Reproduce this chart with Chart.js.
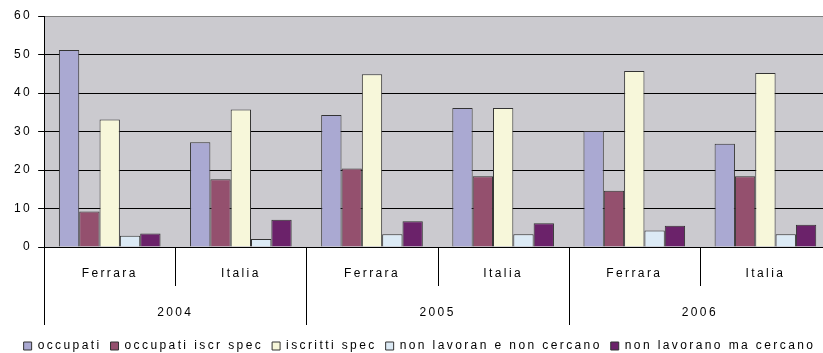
<!DOCTYPE html>
<html>
<head>
<meta charset="utf-8">
<script src="https://cdn.jsdelivr.net/npm/chart.js@4/dist/chart.umd.min.js"></script>
<style>
  html, body { margin: 0; padding: 0; background: #fff; overflow: hidden; }
  #box { width: 832px; height: 353px; }
</style>
</head>
<body>
<div id="box"><canvas id="grafico"></canvas></div>
<script>
// categorie (livello interno ed esterno dell'asse X)
var luoghi = ['Ferrara', 'Italia', 'Ferrara', 'Italia', 'Ferrara', 'Italia'];
var anni = ['2004', '2005', '2006'];

// serie
var occupati = [51.2, 27.2, 34.3, 36.1, 30.1, 26.8];
var occupatiIscrSpec = [9.2, 17.6, 20.4, 18.4, 14.6, 18.4];
var iscrittiSpec = [33.1, 35.7, 44.9, 36.1, 45.7, 45.2];
var nonLavoranNonCercano = [2.9, 2.1, 3.3, 3.3, 4.3, 3.3];
var nonLavoranoMaCercano = [3.5, 7.1, 6.7, 6.2, 5.5, 5.8];

// asse Y
var yTicks = [0, 10, 20, 30, 40, 50, 60];

var FONT = { family: '"Liberation Sans", Arial, sans-serif', size: 12 };
var SPAZIO = '2.4px';

// spaziatura lettere come nell'originale
var spaziatura = {
    id: 'spaziatura',
    beforeInit: function (chart) { chart.ctx.letterSpacing = SPAZIO; },
    beforeLayout: function (chart) { chart.ctx.letterSpacing = SPAZIO; },
    beforeDraw: function (chart) { chart.ctx.letterSpacing = SPAZIO; }
};

// sfondo grigio dell'area del grafico
var sfondo = {
    id: 'sfondo',
    beforeDraw: function (chart) {
        var a = chart.chartArea, ctx = chart.ctx;
        ctx.save();
        ctx.fillStyle = '#CBCACF';
        ctx.fillRect(a.left, a.top, a.right - a.left, a.bottom - a.top);
        ctx.restore();
    }
};

// separatori dell'asse categorie (due livelli)
var separatori = {
    id: 'separatori',
    afterDraw: function (chart) {
        var x = chart.scales.x, x2 = chart.scales.x2, ctx = chart.ctx;
        var n = luoghi.length, passo = (x.right - x.left) / n;
        ctx.save();
        ctx.strokeStyle = '#000000';
        ctx.lineWidth = 1;
        for (var i = 0; i <= n; i++) {
            var px = Math.round(x.left + i * passo) + 0.5;
            var fine = (i % 2 === 0) ? x2.bottom - 6 : x.bottom - 6;
            ctx.beginPath();
            ctx.moveTo(px, x.top);
            ctx.lineTo(px, fine);
            ctx.stroke();
        }
        ctx.restore();
    }
};

function serie(label, data, colore) {
    return {
        label: label,
        data: data,
        backgroundColor: colore,
        borderColor: '#333333',
        borderWidth: 1,
        xAxisID: 'x'
    };
}

var grafico = new Chart(document.getElementById('grafico'), {
    type: 'bar',
    data: {
        labels: luoghi,
        datasets: [
            serie('occupati', occupati, '#AAA9D2'),
            serie('occupati iscr spec', occupatiIscrSpec, '#94506E'),
            serie('iscritti spec', iscrittiSpec, '#F7F7DA'),
            serie('non lavoran e non cercano', nonLavoranNonCercano, '#DCEAF5'),
            serie('non lavorano ma cercano', nonLavoranoMaCercano, '#6B226A')
        ]
    },
    options: {
        responsive: true,
        maintainAspectRatio: false,
        animation: false,
        datasets: {
            bar: { categoryPercentage: 0.775, barPercentage: 1.0 }
        },
        layout: { padding: { top: 16, left: 8, right: 1, bottom: -9 } },
        font: FONT,
        scales: {
            y: {
                min: 0,
                max: 60,
                afterBuildTicks: function (scale) {
                    scale.ticks = yTicks.map(function (v) { return { value: v }; });
                },
                grid: {
                    color: function (c) { return c.tick && c.tick.value === 60 ? '#808080' : '#000000'; },
                    tickColor: '#000000',
                    tickLength: 6,
                    lineWidth: 1
                },
                border: { color: '#000000', width: 1 },
                ticks: { color: '#000000', padding: 6, font: FONT }
            },
            x: {
                type: 'category',
                position: 'bottom',
                offset: true,
                grid: { display: false },
                border: { display: true, color: '#000000', width: 1 },
                ticks: { color: '#000000', padding: 11, maxRotation: 0, autoSkip: false, font: FONT },
                afterFit: function (scale) { scale.height = 45; }
            },
            x2: {
                type: 'category',
                position: 'bottom',
                labels: anni,
                offset: true,
                grid: { display: false },
                border: { display: false },
                ticks: { color: '#000000', padding: 5, maxRotation: 0, autoSkip: false, font: FONT },
                afterFit: function (scale) { scale.height = 39; }
            }
        },
        plugins: {
            legend: {
                position: 'bottom',
                labels: {
                    color: '#000000',
                    boxWidth: 8,
                    boxHeight: 8,
                    padding: 9,
                    font: FONT
                }
            },
            tooltip: { enabled: false }
        }
    },
    plugins: [spaziatura, sfondo, separatori]
});
</script>
</body>
</html>
